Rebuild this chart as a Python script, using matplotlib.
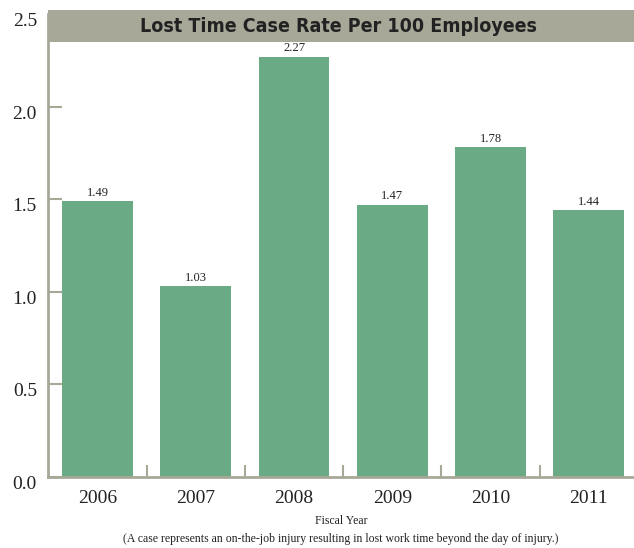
import matplotlib
matplotlib.use("Agg")
import matplotlib.pyplot as plt
import matplotlib.transforms as mtransforms
from matplotlib.patches import Rectangle
import numpy as np

years = ["2006", "2007", "2008", "2009", "2010", "2011"]
rates = [1.49, 1.03, 2.27, 1.47, 1.78, 1.44]
value_labels = ["1.49", "1.03", "2.27", "1.47", "1.78", "1.44"]
y_ticks = [0.0, 0.5, 1.0, 1.5, 2.0, 2.5]

bar_color = "#6aaa84"
grey = "#a8a899"
serif = ["Liberation Serif", "DejaVu Serif"]

fig = plt.figure(figsize=(6.34, 5.48), dpi=100)
ax = fig.add_axes([48 / 634, 71.5 / 548, 586 / 634, 462.5 / 548])

x = np.arange(len(years))
ax.bar(x, rates, width=0.72, color=bar_color, zorder=2)
for xi, r, lab in zip(x, rates, value_labels):
    ax.annotate(lab, (xi, r), xytext=(0, 1.5), textcoords="offset points",
                ha="center", va="bottom", fontsize=9, family=serif,
                color="#222222")

ax.set_xlim(-0.504, 5.46)
ax.set_ylim(0, 2.5)

for s in ["top", "right"]:
    ax.spines[s].set_visible(False)
for s in ["left", "bottom"]:
    ax.spines[s].set_color(grey)
    ax.spines[s].set_linewidth(2)

ax.set_yticks(y_ticks)
ax.set_yticklabels(["%.1f" % v for v in y_ticks], family=serif, fontsize=14)
ax.tick_params(axis="y", direction="in", length=10, width=1.5, color=grey,
               pad=8, labelcolor="#222222")
# serif digits sit a little below the tick in the original
shift = mtransforms.ScaledTranslation(0, -4 / 72, fig.dpi_scale_trans)
for lab in ax.get_yticklabels():
    lab.set_transform(lab.get_transform() + shift)

ax.set_xticks(x)
ax.set_xticklabels(years, family=serif, fontsize=14)
ax.tick_params(axis="x", which="major", length=0, pad=10, labelcolor="#222222")
ax.set_xticks(x[:-1] + 0.5, minor=True)
ax.tick_params(axis="x", which="minor", direction="in", length=9, width=1.5,
               color=grey)

# title band across the top
fig.patches.append(Rectangle((48 / 634, (548 - 42) / 548), 586 / 634, 32 / 548,
                             transform=fig.transFigure, facecolor=grey,
                             edgecolor="none", zorder=5))
fig.text(338 / 634, (548 - 26) / 548, "Lost Time Case Rate Per 100 Employees",
         ha="center", va="center", fontsize=14, fontweight="bold",
         fontstretch="condensed", family=["DejaVu Sans"], color="#222222",
         zorder=6)

fig.text(341 / 634, (548 - 521) / 548, "Fiscal Year", ha="center", va="center",
         fontsize=8.5, family=serif, color="#222222")
fig.text(341 / 634, (548 - 539) / 548,
         "(A case represents an on-the-job injury resulting in lost work time beyond the day of injury.)",
         ha="center", va="center", fontsize=8.5, family=serif, color="#222222")

fig.savefig("out.png", dpi=100)
